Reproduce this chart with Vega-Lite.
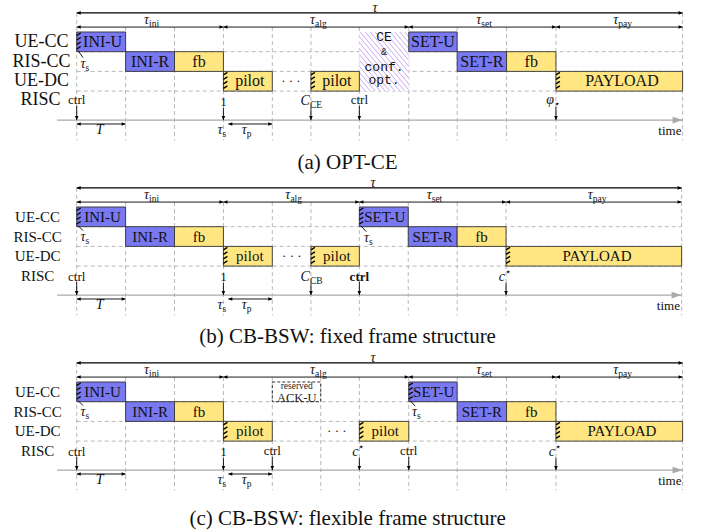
{
"$schema":"https://vega.github.io/schema/vega-lite/v6.json",
"padding":0,
"bounds":"flush",
"spacing":0,
"background":"#ffffff",
"config":{"view":{"stroke":null},"text":{"font":"Liberation Serif","color":"#111111"}},
"data":{"values":[
{"k":"vg","p":"a","x":0,"y":-0.97,"y2":5.5},{"k":"vg","p":"a","x":12.39,"y":-0.97,"y2":5.5},
{"k":"vg","p":"a","x":1,"y":-0.25,"y2":5.5},{"k":"vg","p":"a","x":2,"y":-0.25,"y2":5.5},{"k":"vg","p":"a","x":3,"y":-0.25,"y2":5.5},{"k":"vg","p":"a","x":4,"y":-0.25,"y2":5.5},{"k":"vg","p":"a","x":4.79,"y":-0.25,"y2":5.5},{"k":"vg","p":"a","x":5.78,"y":-0.25,"y2":5.5},{"k":"vg","p":"a","x":6.79,"y":-0.25,"y2":5.5},{"k":"vg","p":"a","x":7.78,"y":-0.25,"y2":5.5},{"k":"vg","p":"a","x":8.79,"y":-0.25,"y2":5.5},{"k":"vg","p":"a","x":9.8,"y":-0.25,"y2":5.5},
{"k":"vg","p":"b","x":0,"y":-0.97,"y2":5.5},{"k":"vg","p":"b","x":12.37,"y":-0.97,"y2":5.5},
{"k":"vg","p":"b","x":1,"y":-0.25,"y2":5.5},{"k":"vg","p":"b","x":2,"y":-0.25,"y2":5.5},{"k":"vg","p":"b","x":3,"y":-0.25,"y2":5.5},{"k":"vg","p":"b","x":4,"y":-0.25,"y2":5.5},{"k":"vg","p":"b","x":4.79,"y":-0.25,"y2":5.5},{"k":"vg","p":"b","x":5.78,"y":-0.25,"y2":5.5},{"k":"vg","p":"b","x":6.78,"y":-0.25,"y2":5.5},{"k":"vg","p":"b","x":7.78,"y":-0.25,"y2":5.5},{"k":"vg","p":"b","x":8.78,"y":-0.25,"y2":5.5},
{"k":"vg","p":"c","x":0,"y":-0.97,"y2":5.5},{"k":"vg","p":"c","x":12.39,"y":-0.97,"y2":5.5},
{"k":"vg","p":"c","x":1,"y":-0.25,"y2":5.5},{"k":"vg","p":"c","x":2,"y":-0.25,"y2":5.5},{"k":"vg","p":"c","x":3,"y":-0.25,"y2":5.5},{"k":"vg","p":"c","x":4,"y":-0.25,"y2":5.5},{"k":"vg","p":"c","x":4.99,"y":-0.25,"y2":5.5},{"k":"vg","p":"c","x":5.78,"y":-0.25,"y2":5.5},{"k":"vg","p":"c","x":6.79,"y":-0.25,"y2":5.5},{"k":"vg","p":"c","x":7.78,"y":-0.25,"y2":5.5},{"k":"vg","p":"c","x":8.79,"y":-0.25,"y2":5.5},{"k":"vg","p":"c","x":9.8,"y":-0.25,"y2":5.5},
{"k":"hg","p":"a","x":0,"x2":12.39,"y":1},{"k":"hg","p":"a","x":0,"x2":12.39,"y":2},{"k":"hg","p":"a","x":0,"x2":12.39,"y":3},
{"k":"hg","p":"b","x":0,"x2":12.37,"y":1},{"k":"hg","p":"b","x":0,"x2":12.37,"y":2},{"k":"hg","p":"b","x":0,"x2":12.37,"y":3},
{"k":"hg","p":"c","x":0,"x2":12.39,"y":1},{"k":"hg","p":"c","x":0,"x2":12.39,"y":2},{"k":"hg","p":"c","x":0,"x2":12.39,"y":3},
{"k":"box","p":"a","x":0,"x2":1,"r0":0,"r1":1,"t":"INI-U","c":"U","xm":0.53,"s":true},
{"k":"box","p":"a","x":1,"x2":2,"r0":1,"r1":2,"t":"INI-R","c":"U","xm":1.5,"s":false},
{"k":"box","p":"a","x":2,"x2":3,"r0":1,"r1":2,"t":"fb","c":"F","xm":2.5,"s":false},
{"k":"box","p":"a","x":3,"x2":4,"r0":2,"r1":3,"t":"pilot","c":"F","xm":3.54,"s":true},
{"k":"box","p":"a","x":4.79,"x2":5.78,"r0":2,"r1":3,"t":"pilot","c":"F","xm":5.32,"s":true},
{"k":"box","p":"a","x":6.79,"x2":7.78,"r0":0,"r1":1,"t":"SET-U","c":"U","xm":7.285,"s":false},
{"k":"box","p":"a","x":7.78,"x2":8.79,"r0":1,"r1":2,"t":"SET-R","c":"U","xm":8.285,"s":false},
{"k":"box","p":"a","x":8.79,"x2":9.8,"r0":1,"r1":2,"t":"fb","c":"F","xm":9.295,"s":false},
{"k":"box","p":"a","x":9.8,"x2":12.39,"r0":2,"r1":3,"t":"PAYLOAD","c":"F","xm":11.15,"s":true},
{"k":"box","p":"b","x":0,"x2":1,"r0":0,"r1":1,"t":"INI-U","c":"U","xm":0.53,"s":true},
{"k":"box","p":"b","x":1,"x2":2,"r0":1,"r1":2,"t":"INI-R","c":"U","xm":1.5,"s":false},
{"k":"box","p":"b","x":2,"x2":3,"r0":1,"r1":2,"t":"fb","c":"F","xm":2.5,"s":false},
{"k":"box","p":"b","x":3,"x2":4,"r0":2,"r1":3,"t":"pilot","c":"F","xm":3.54,"s":true},
{"k":"box","p":"b","x":4.79,"x2":5.78,"r0":2,"r1":3,"t":"pilot","c":"F","xm":5.32,"s":true},
{"k":"box","p":"b","x":5.78,"x2":6.78,"r0":0,"r1":1,"t":"SET-U","c":"U","xm":6.3,"s":true},
{"k":"box","p":"b","x":6.78,"x2":7.78,"r0":1,"r1":2,"t":"SET-R","c":"U","xm":7.28,"s":false},
{"k":"box","p":"b","x":7.78,"x2":8.78,"r0":1,"r1":2,"t":"fb","c":"F","xm":8.28,"s":false},
{"k":"box","p":"b","x":8.78,"x2":12.37,"r0":2,"r1":3,"t":"PAYLOAD","c":"F","xm":10.64,"s":true},
{"k":"box","p":"c","x":0,"x2":1,"r0":0,"r1":1,"t":"INI-U","c":"U","xm":0.53,"s":true},
{"k":"box","p":"c","x":1,"x2":2,"r0":1,"r1":2,"t":"INI-R","c":"U","xm":1.5,"s":false},
{"k":"box","p":"c","x":2,"x2":3,"r0":1,"r1":2,"t":"fb","c":"F","xm":2.5,"s":false},
{"k":"box","p":"c","x":3,"x2":4,"r0":2,"r1":3,"t":"pilot","c":"F","xm":3.54,"s":true},
{"k":"box","p":"c","x":5.78,"x2":6.79,"r0":2,"r1":3,"t":"pilot","c":"F","xm":6.31,"s":true},
{"k":"box","p":"c","x":6.79,"x2":7.78,"r0":0,"r1":1,"t":"SET-U","c":"U","xm":7.3,"s":true},
{"k":"box","p":"c","x":7.78,"x2":8.79,"r0":1,"r1":2,"t":"SET-R","c":"U","xm":8.285,"s":false},
{"k":"box","p":"c","x":8.79,"x2":9.8,"r0":1,"r1":2,"t":"fb","c":"F","xm":9.295,"s":false},
{"k":"box","p":"c","x":9.8,"x2":12.39,"r0":2,"r1":3,"t":"PAYLOAD","c":"F","xm":11.15,"s":true},
{"k":"ce","p":"a","x":5.78,"x2":6.79,"r0":0,"r1":3},
{"k":"cet","p":"a","x":6.285,"y":0.24,"t":"CE"},{"k":"cet","p":"a","x":6.285,"y":1.02,"t":"&"},{"k":"cet","p":"a","x":6.285,"y":1.76,"t":"conf."},{"k":"cet","p":"a","x":6.285,"y":2.46,"t":"opt."},
{"k":"res","p":"c","x":4.0,"x2":4.99,"r0":0,"r1":1},
{"k":"rest","p":"c","x":4.5,"y":0.2,"t":"reserved"},{"k":"rest","p":"c","x":4.5,"y":0.8,"t":"ACK-U"},
{"k":"rl","p":"a","x":-0.72,"y":0.5,"t":"UE-CC"},{"k":"rl","p":"a","x":-0.72,"y":1.5,"t":"RIS-CC"},{"k":"rl","p":"a","x":-0.72,"y":2.5,"t":"UE-DC"},{"k":"rl","p":"a","x":-0.74,"y":3.45,"t":"RISC"},
{"k":"rl","p":"b","x":-0.8,"y":0.5,"t":"UE-CC"},{"k":"rl","p":"b","x":-0.8,"y":1.5,"t":"RIS-CC"},{"k":"rl","p":"b","x":-0.8,"y":2.5,"t":"UE-DC"},{"k":"rl","p":"b","x":-0.8,"y":3.5,"t":"RISC"},
{"k":"rl","p":"c","x":-0.8,"y":0.5,"t":"UE-CC"},{"k":"rl","p":"c","x":-0.8,"y":1.5,"t":"RIS-CC"},{"k":"rl","p":"c","x":-0.8,"y":2.5,"t":"UE-DC"},{"k":"rl","p":"c","x":-0.8,"y":3.5,"t":"RISC"},
{"k":"lb","p":"a","x":0,"y":3.45,"t":"ctrl"},{"k":"lb","p":"a","x":3,"y":3.55,"t":"1"},{"k":"lb","p":"a","x":5.78,"y":3.45,"t":"ctrl"},{"k":"lb","p":"a","x":4.38,"y":2.5,"t":"· · ·"},{"k":"lb","p":"a","x":12.13,"y":5.03,"t":"time"},
{"k":"lb","p":"b","x":0,"y":3.55,"t":"ctrl"},{"k":"lb","p":"b","x":3,"y":3.55,"t":"1"},{"k":"lb","p":"b","x":4.4,"y":2.5,"t":"· · ·"},{"k":"lb","p":"b","x":12.1,"y":5.03,"t":"time"},
{"k":"lbb","p":"b","x":5.78,"y":3.55,"t":"ctrl"},
{"k":"lb","p":"c","x":0,"y":3.55,"t":"ctrl"},{"k":"lb","p":"c","x":3,"y":3.55,"t":"1"},{"k":"lb","p":"c","x":4.0,"y":3.5,"t":"ctrl"},{"k":"lb","p":"c","x":6.79,"y":3.5,"t":"ctrl"},{"k":"lb","p":"c","x":5.32,"y":2.5,"t":"· · ·"},{"k":"lb","p":"c","x":12.13,"y":5.03,"t":"time"},
{"k":"ml","p":"a","x":1.5,"y":-0.6,"m":"τ","sub":"ini"},{"k":"ml","p":"a","x":4.895,"y":-0.6,"m":"τ","sub":"alg"},{"k":"ml","p":"a","x":8.295,"y":-0.6,"m":"τ","sub":"set"},{"k":"ml","p":"a","x":11.095,"y":-0.6,"m":"τ","sub":"pay"},
{"k":"ml","p":"a","x":4.79,"y":3.5,"m":"C","sub":"CE"},{"k":"ml","p":"a","x":9.78,"y":3.45,"m":"φ","sub":"⋆"},{"k":"ml","p":"a","x":0.2,"y":1.62,"m":"τ","sub":"s"},{"k":"ml","p":"a","x":3.0,"y":4.97,"m":"τ","sub":"s"},{"k":"ml","p":"a","x":3.5,"y":4.97,"m":"τ","sub":"p"},
{"k":"ml","p":"b","x":1.5,"y":-0.6,"m":"τ","sub":"ini"},{"k":"ml","p":"b","x":4.39,"y":-0.6,"m":"τ","sub":"alg"},{"k":"ml","p":"b","x":7.28,"y":-0.6,"m":"τ","sub":"set"},{"k":"ml","p":"b","x":10.575,"y":-0.6,"m":"τ","sub":"pay"},
{"k":"ml","p":"b","x":4.79,"y":3.55,"m":"C","sub":"CB"},{"k":"ml","p":"b","x":8.78,"y":3.55,"m":"c","sup":"⋆"},{"k":"ml","p":"b","x":0.2,"y":1.5,"m":"τ","sub":"s"},{"k":"ml","p":"b","x":6.0,"y":1.55,"m":"τ","sub":"s"},{"k":"ml","p":"b","x":3.0,"y":4.97,"m":"τ","sub":"s"},{"k":"ml","p":"b","x":3.5,"y":4.97,"m":"τ","sub":"p"},
{"k":"ml","p":"c","x":1.5,"y":-0.6,"m":"τ","sub":"ini"},{"k":"ml","p":"c","x":4.895,"y":-0.6,"m":"τ","sub":"alg"},{"k":"ml","p":"c","x":8.295,"y":-0.6,"m":"τ","sub":"set"},{"k":"ml","p":"c","x":11.095,"y":-0.6,"m":"τ","sub":"pay"},
{"k":"ml","p":"c","x":5.78,"y":3.55,"m":"c","sup":"⋆"},{"k":"ml","p":"c","x":9.8,"y":3.55,"m":"c","sup":"⋆"},{"k":"ml","p":"c","x":0.2,"y":1.5,"m":"τ","sub":"s"},{"k":"ml","p":"c","x":6.98,"y":1.52,"m":"τ","sub":"s"},{"k":"ml","p":"c","x":3.0,"y":4.97,"m":"τ","sub":"s"},{"k":"ml","p":"c","x":3.5,"y":4.97,"m":"τ","sub":"p"},
{"k":"it","p":"a","x":6.1,"y":-1.22,"t":"τ"},{"k":"it","p":"a","x":0.47,"y":4.97,"t":"T"},
{"k":"it","p":"b","x":6.06,"y":-1.22,"t":"τ"},{"k":"it","p":"b","x":0.47,"y":4.97,"t":"T"},
{"k":"it","p":"c","x":6.06,"y":-1.22,"t":"τ"},{"k":"it","p":"c","x":0.47,"y":4.97,"t":"T"},
{"k":"ha","p":"a","x":0,"x2":12.39,"y":-0.97},{"k":"ha","p":"a","x":0,"x2":3,"y":-0.25},{"k":"ha","p":"a","x":3,"x2":6.79,"y":-0.25},{"k":"ha","p":"a","x":6.79,"x2":9.8,"y":-0.25},{"k":"ha","p":"a","x":9.8,"x2":12.39,"y":-0.25},{"k":"ha","p":"a","x":0,"x2":1,"y":4.67},{"k":"ha","p":"a","x":3.1,"x2":4,"y":4.67},
{"k":"ha","p":"b","x":0,"x2":12.37,"y":-0.97},{"k":"ha","p":"b","x":0,"x2":3,"y":-0.25},{"k":"ha","p":"b","x":3,"x2":5.78,"y":-0.25},{"k":"ha","p":"b","x":5.78,"x2":8.78,"y":-0.25},{"k":"ha","p":"b","x":8.78,"x2":12.37,"y":-0.25},{"k":"ha","p":"b","x":0,"x2":1,"y":4.67},{"k":"ha","p":"b","x":3.1,"x2":4,"y":4.67},
{"k":"ha","p":"c","x":0,"x2":12.39,"y":-0.97},{"k":"ha","p":"c","x":0,"x2":3,"y":-0.25},{"k":"ha","p":"c","x":3,"x2":6.79,"y":-0.25},{"k":"ha","p":"c","x":6.79,"x2":9.8,"y":-0.25},{"k":"ha","p":"c","x":9.8,"x2":12.39,"y":-0.25},{"k":"ha","p":"c","x":0,"x2":1,"y":4.67},{"k":"ha","p":"c","x":3.1,"x2":4,"y":4.67},
{"k":"da","p":"a","x":0,"y":3.75,"y2":4.47},{"k":"da","p":"a","x":3,"y":3.85,"y2":4.47},{"k":"da","p":"a","x":4.79,"y":3.8,"y2":4.47},{"k":"da","p":"a","x":5.78,"y":3.75,"y2":4.47},{"k":"da","p":"a","x":9.8,"y":3.8,"y2":4.47},
{"k":"da","p":"b","x":0,"y":3.8,"y2":4.47},{"k":"da","p":"b","x":3,"y":3.85,"y2":4.47},{"k":"da","p":"b","x":4.79,"y":3.85,"y2":4.47},{"k":"da","p":"b","x":5.78,"y":3.8,"y2":4.47},{"k":"da","p":"b","x":8.78,"y":3.85,"y2":4.47},
{"k":"da","p":"c","x":0,"y":3.8,"y2":4.47},{"k":"da","p":"c","x":3,"y":3.85,"y2":4.47},{"k":"da","p":"c","x":4.0,"y":3.8,"y2":4.47},{"k":"da","p":"c","x":5.78,"y":3.85,"y2":4.47},{"k":"da","p":"c","x":6.79,"y":3.8,"y2":4.47},{"k":"da","p":"c","x":9.8,"y":3.85,"y2":4.47},
{"k":"dg","p":"a","x":0.13,"x2":0.03,"y":1.3,"y2":0.95},
{"k":"dg","p":"b","x":0.13,"x2":0.03,"y":1.2,"y2":0.95},{"k":"dg","p":"b","x":5.92,"x2":5.81,"y":1.25,"y2":0.95},
{"k":"dg","p":"c","x":0.13,"x2":0.03,"y":1.2,"y2":0.95},{"k":"dg","p":"c","x":6.92,"x2":6.82,"y":1.22,"y2":0.95},
{"k":"ax","p":"a","x":-0.4,"x2":12.39,"y":4.47},{"k":"ax","p":"b","x":-0.4,"x2":12.37,"y":4.47},{"k":"ax","p":"c","x":-0.4,"x2":12.39,"y":4.47},
{"k":"cap","p":"a","x":5.54,"y":6.95,"t":"(a) OPT-CE"},
{"k":"cap","p":"b","x":5.54,"y":6.88,"t":"(b) CB-BSW: fixed frame structure"},
{"k":"cap","p":"c","x":5.54,"y":7.28,"t":"(c) CB-BSW: flexible frame structure"}
]},
"facet":{"row":{"field":"p","type":"nominal","header":null}},
"spec":{
"width":709,"height":174.5,
"encoding":{
"x":{"field":"x","type":"quantitative","scale":{"domain":[-1.5685,12.93],"nice":false,"zero":false},"axis":null},
"y":{"field":"y","type":"quantitative","scale":{"domain":[-1.624,7.234],"nice":false,"zero":false,"reverse":true},"axis":null}
},
"layer":[
{"transform":[{"filter":"datum.k==='vg'"}],"mark":{"type":"rule","color":"#b8b8b8","strokeWidth":1,"strokeDash":[4,3]},"encoding":{"y2":{"field":"y2"}}},
{"transform":[{"filter":"datum.k==='hg'"}],"mark":{"type":"rule","color":"#b8b8b8","strokeWidth":1,"strokeDash":[4,3]},"encoding":{"x2":{"field":"x2"}}},
{"transform":[{"filter":"datum.k==='ce'"}],"mark":{"type":"rect","fill":{"gradient":"linear","x1":1,"y1":0,"x2":0,"y2":1,"stops":[
{"offset":0,"color":"#ffffff"},{"offset":0.03,"color":"#ffffff"},{"offset":0.04,"color":"#c9a9f2"},
{"offset":0.05,"color":"#ffffff"},{"offset":0.08,"color":"#ffffff"},{"offset":0.09,"color":"#c9a9f2"},
{"offset":0.1,"color":"#ffffff"},{"offset":0.13,"color":"#ffffff"},{"offset":0.14,"color":"#c9a9f2"},
{"offset":0.15,"color":"#ffffff"},{"offset":0.18,"color":"#ffffff"},{"offset":0.19,"color":"#c9a9f2"},
{"offset":0.2,"color":"#ffffff"},{"offset":0.23,"color":"#ffffff"},{"offset":0.24,"color":"#c9a9f2"},
{"offset":0.25,"color":"#ffffff"},{"offset":0.28,"color":"#ffffff"},{"offset":0.29,"color":"#c9a9f2"},
{"offset":0.3,"color":"#ffffff"},{"offset":0.33,"color":"#ffffff"},{"offset":0.34,"color":"#c9a9f2"},
{"offset":0.35,"color":"#ffffff"},{"offset":0.38,"color":"#ffffff"},{"offset":0.39,"color":"#c9a9f2"},
{"offset":0.4,"color":"#ffffff"},{"offset":0.43,"color":"#ffffff"},{"offset":0.44,"color":"#c9a9f2"},
{"offset":0.45,"color":"#ffffff"},{"offset":0.48,"color":"#ffffff"},{"offset":0.49,"color":"#c9a9f2"},
{"offset":0.5,"color":"#ffffff"},{"offset":0.53,"color":"#ffffff"},{"offset":0.54,"color":"#c9a9f2"},
{"offset":0.55,"color":"#ffffff"},{"offset":0.58,"color":"#ffffff"},{"offset":0.59,"color":"#c9a9f2"},
{"offset":0.6,"color":"#ffffff"},{"offset":0.63,"color":"#ffffff"},{"offset":0.64,"color":"#c9a9f2"},
{"offset":0.65,"color":"#ffffff"},{"offset":0.68,"color":"#ffffff"},{"offset":0.69,"color":"#c9a9f2"},
{"offset":0.7,"color":"#ffffff"},{"offset":0.73,"color":"#ffffff"},{"offset":0.74,"color":"#c9a9f2"},
{"offset":0.75,"color":"#ffffff"},{"offset":0.78,"color":"#ffffff"},{"offset":0.79,"color":"#c9a9f2"},
{"offset":0.8,"color":"#ffffff"},{"offset":0.83,"color":"#ffffff"},{"offset":0.84,"color":"#c9a9f2"},
{"offset":0.85,"color":"#ffffff"},{"offset":0.88,"color":"#ffffff"},{"offset":0.89,"color":"#c9a9f2"},
{"offset":0.9,"color":"#ffffff"},{"offset":0.93,"color":"#ffffff"},{"offset":0.94,"color":"#c9a9f2"},
{"offset":0.95,"color":"#ffffff"},{"offset":0.98,"color":"#ffffff"},{"offset":0.99,"color":"#c9a9f2"},
{"offset":1,"color":"#ffffff"}]}},
"encoding":{"y":{"field":"r0","type":"quantitative","scale":{"domain":[-1.624,7.234],"nice":false,"zero":false,"reverse":true},"axis":null},"y2":{"field":"r1"},"x2":{"field":"x2"}}},
{"transform":[{"filter":"datum.k==='box'"}],"mark":{"type":"rect","stroke":"#333333","strokeWidth":0.9},
"encoding":{"y":{"field":"r0","type":"quantitative","scale":{"domain":[-1.624,7.234],"nice":false,"zero":false,"reverse":true},"axis":null},"y2":{"field":"r1"},"x2":{"field":"x2"},
"fill":{"field":"c","type":"nominal","scale":{"domain":["U","F"],"range":["#7878f0","#ffe681"]},"legend":null},
"strokeDash":{"condition":{"test":"datum.p !== 'a' && datum.r0 === 1","value":[4,3]},"value":[1,0]}}},
{"transform":[{"filter":"datum.k==='res'"}],"mark":{"type":"rect","fill":"#ffffff","fillOpacity":0,"stroke":"#333333","strokeWidth":1,"strokeDash":[3,2]},
"encoding":{"y":{"field":"r0","type":"quantitative","scale":{"domain":[-1.624,7.234],"nice":false,"zero":false,"reverse":true},"axis":null},"y2":{"field":"r1"},"x2":{"field":"x2"}}},
{"transform":[{"filter":"datum.k==='box' && datum.s"}],"mark":{"type":"point","shape":"M0,0.35L0.4,0.1M0,0.8L0.4,0.55M0,1.25L0.4,1M0,1.7L0.4,1.45","filled":false,"size":400,"color":"#000000","stroke":"#000000","strokeWidth":1.4,"opacity":1},
"encoding":{"y":{"field":"r0","type":"quantitative","scale":{"domain":[-1.624,7.234],"nice":false,"zero":false,"reverse":true},"axis":null}}},
{"transform":[{"filter":"datum.k==='ax'"}],"mark":{"type":"rule","color":"#aaaaaa","strokeWidth":1.3},"encoding":{"x2":{"field":"x2"}}},
{"transform":[{"filter":"datum.k==='ax'"}],"mark":{"type":"point","shape":"M0,0L-1,-0.34L-1,0.34Z","filled":true,"size":400,"color":"#aaaaaa","strokeWidth":0,"opacity":1},
"encoding":{"x":{"field":"x2","type":"quantitative","scale":{"domain":[-1.5685,12.93],"nice":false,"zero":false},"axis":null}}},
{"transform":[{"filter":"datum.k==='ha'"}],"mark":{"type":"rule","color":"#000000"},"encoding":{"x2":{"field":"x2"},"strokeWidth":{"condition":{"test":"datum.y < -0.5","value":1.4},"value":0.9}}},
{"transform":[{"filter":"datum.k==='ha'"}],"mark":{"type":"point","shape":"M0,0L1,-0.45L1,0.45Z","filled":true,"size":64,"color":"#000000","strokeWidth":0,"opacity":1}},
{"transform":[{"filter":"datum.k==='ha'"}],"mark":{"type":"point","shape":"M0,0L-1,-0.45L-1,0.45Z","filled":true,"size":64,"color":"#000000","strokeWidth":0,"opacity":1},
"encoding":{"x":{"field":"x2","type":"quantitative","scale":{"domain":[-1.5685,12.93],"nice":false,"zero":false},"axis":null}}},
{"transform":[{"filter":"datum.k==='da'"}],"mark":{"type":"rule","color":"#000000","strokeWidth":0.9},"encoding":{"y2":{"field":"y2"}}},
{"transform":[{"filter":"datum.k==='da'"}],"mark":{"type":"point","shape":"M0,0L-0.45,-1L0.45,-1Z","filled":true,"size":64,"color":"#000000","strokeWidth":0,"opacity":1},
"encoding":{"y":{"field":"y2","type":"quantitative","scale":{"domain":[-1.624,7.234],"nice":false,"zero":false,"reverse":true},"axis":null}}},
{"transform":[{"filter":"datum.k==='dg'"}],"mark":{"type":"rule","color":"#000000","strokeWidth":0.9},"encoding":{"x2":{"field":"x2"},"y2":{"field":"y2"}}},
{"transform":[{"filter":"datum.k==='box'"}],"mark":{"type":"text","font":"Liberation Serif","baseline":"middle","align":"center","dy":10},
"encoding":{"x":{"field":"xm","type":"quantitative","scale":{"domain":[-1.5685,12.93],"nice":false,"zero":false},"axis":null},
"y":{"field":"r0","type":"quantitative","scale":{"domain":[-1.624,7.234],"nice":false,"zero":false,"reverse":true},"axis":null},
"text":{"field":"t","type":"nominal"},"size":{"condition":{"test":"datum.p==='a'","value":16},"value":15}}},
{"transform":[{"filter":"datum.k==='cet'"}],"mark":{"type":"text","font":"Liberation Mono","baseline":"middle","align":"center"},
"encoding":{"text":{"field":"t","type":"nominal"},"size":{"condition":{"test":"datum.t==='&'","value":10},"value":13}}},
{"transform":[{"filter":"datum.k==='rest'"}],"mark":{"type":"text","font":"Liberation Serif","baseline":"middle","align":"center","color":"#222222"},
"encoding":{"text":{"field":"t","type":"nominal"},"size":{"condition":{"test":"datum.t==='reserved'","value":9.5},"value":12.5}}},
{"transform":[{"filter":"datum.k==='rl'"}],"mark":{"type":"text","font":"Liberation Serif","baseline":"middle","align":"center"},
"encoding":{"text":{"field":"t","type":"nominal"},"size":{"condition":{"test":"datum.p==='a'","value":18},"value":15}}},
{"transform":[{"filter":"datum.k==='lb'"}],"mark":{"type":"text","font":"Liberation Serif","baseline":"middle","align":"center","fontSize":13},"encoding":{"text":{"field":"t","type":"nominal"}}},
{"transform":[{"filter":"datum.k==='lbb'"}],"mark":{"type":"text","font":"Liberation Serif","baseline":"middle","align":"center","fontSize":13,"fontWeight":"bold"},"encoding":{"text":{"field":"t","type":"nominal"}}},
{"transform":[{"filter":"datum.k==='it'"}],"mark":{"type":"text","font":"Liberation Serif","baseline":"middle","align":"center","fontSize":14,"fontStyle":"italic"},"encoding":{"text":{"field":"t","type":"nominal"}}},
{"transform":[{"filter":"datum.k==='ml'"}],"mark":{"type":"text","font":"Liberation Serif","baseline":"middle","align":"right","dx":-1,"fontSize":14,"fontStyle":"italic"},"encoding":{"text":{"field":"m","type":"nominal"}}},
{"transform":[{"filter":"datum.k==='ml' && datum.sub"}],"mark":{"type":"text","font":"Liberation Serif","baseline":"middle","align":"left","dx":-1,"dy":4,"fontSize":9.5},"encoding":{"text":{"field":"sub","type":"nominal"}}},
{"transform":[{"filter":"datum.k==='ml' && datum.sup"}],"mark":{"type":"text","font":"Liberation Serif","baseline":"middle","align":"left","dx":-1,"dy":-5,"fontSize":10},"encoding":{"text":{"field":"sup","type":"nominal"}}},
{"transform":[{"filter":"datum.k==='cap'"}],"mark":{"type":"text","font":"Liberation Serif","baseline":"alphabetic","align":"center","fontSize":21},"encoding":{"text":{"field":"t","type":"nominal"}}}
]
}
}
